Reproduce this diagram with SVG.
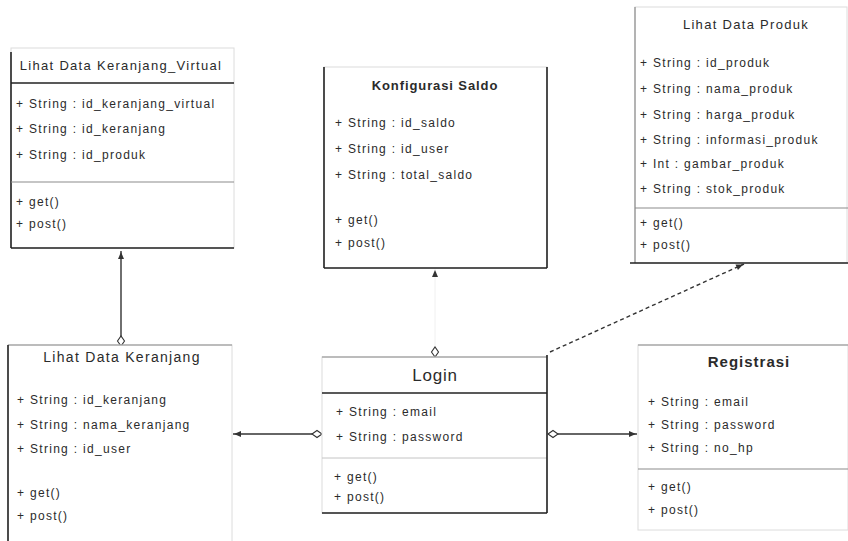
<svg xmlns="http://www.w3.org/2000/svg" width="848" height="541" viewBox="0 0 848 541">
<defs>
<style>
text { font-family: "Liberation Sans", Arial, sans-serif; fill: #2b2b2b; }
.a { font-size: 12px; letter-spacing: 1.3px; }
.ti { font-size: 13px; letter-spacing: 1.3px; text-anchor: middle; }
.tb { font-size: 13px; font-weight: bold; letter-spacing: 0.9px; text-anchor: middle; }
.box { fill: #ffffff; stroke: #dcdcdc; stroke-width: 1; }
.dk { stroke: #222222; stroke-width: 1.6; fill: none; }
.md { stroke: #8c8c8c; stroke-width: 1.2; fill: none; }
.lt { stroke: #c4c4c4; stroke-width: 1; fill: none; }
.conn { stroke: #333333; stroke-width: 1.4; fill: none; }
</style>
<marker id="arrow" markerUnits="userSpaceOnUse" markerWidth="10" markerHeight="10" viewBox="-1 -5 10 10" refX="8" refY="0" orient="auto">
<path d="M0,-3 L7,0 L0,3 Z" fill="#333333"/>
</marker>
<marker id="diamond" markerUnits="userSpaceOnUse" markerWidth="14" markerHeight="10" viewBox="-1 -5 14 10" refX="0" refY="0" orient="auto">
<path d="M0,0 L5,-3.5 L10,0 L5,3.5 Z" fill="#ffffff" stroke="#333333" stroke-width="1.1"/>
</marker>
<clipPath id="clip1"><rect x="11" y="48" width="222" height="200"/></clipPath>
</defs>

<g id="connectors">
<path class="conn" d="M121,346 L121,251" marker-start="url(#diamond)" marker-end="url(#arrow)"/>
<path d="M435,357 L435,269" stroke="#f0f0f0" stroke-width="1" fill="none" marker-start="url(#diamond)" marker-end="url(#arrow)"/>
<path class="conn" d="M322,434 L233,434" stroke-width="1.2" marker-start="url(#diamond)" marker-end="url(#arrow)"/>
<path class="conn" d="M548,434 L637,434" stroke-width="1.2" marker-start="url(#diamond)" marker-end="url(#arrow)"/>
<path class="conn" d="M550,352 L744,264" stroke-width="1.2" stroke-dasharray="4,3" marker-end="url(#arrow)"/>
</g>

<g id="keranjang-virtual">
<rect class="box" x="11" y="48" width="223" height="200"/>
<line class="dk" x1="11" y1="52" x2="11" y2="248"/>
<line class="dk" x1="11" y1="83" x2="234" y2="83"/>
<line class="md" x1="11" y1="182" x2="234" y2="182"/>
<line class="dk" x1="11" y1="248" x2="234" y2="248"/>
<text class="ti" x="121" y="70">Lihat Data Keranjang_Virtual</text>
<g clip-path="url(#clip1)">
<text class="a" x="16" y="108">+ String : id_keranjang_virtual</text>
</g>
<text class="a" x="16" y="133">+ String : id_keranjang</text>
<text class="a" x="16" y="159">+ String : id_produk</text>
<text class="a" x="16" y="206">+ get()</text>
<text class="a" x="16" y="228">+ post()</text>
</g>

<g id="konfigurasi-saldo">
<rect class="box" x="324" y="67" width="223" height="201"/>
<line class="dk" x1="324" y1="67" x2="324" y2="268"/>
<line class="dk" x1="547" y1="67" x2="547" y2="268"/>
<line class="dk" x1="324" y1="268" x2="547" y2="268"/>
<text class="tb" x="435" y="90">Konfigurasi Saldo</text>
<text class="a" x="335" y="127">+ String : id_saldo</text>
<text class="a" x="335" y="153">+ String : id_user</text>
<text class="a" x="335" y="179">+ String : total_saldo</text>
<text class="a" x="335" y="224">+ get()</text>
<text class="a" x="335" y="247">+ post()</text>
</g>

<g id="lihat-data-produk">
<rect class="box" x="635" y="7" width="212" height="256"/>
<line class="md" x1="635" y1="7" x2="635" y2="263"/>
<line class="md" x1="635" y1="208" x2="848" y2="208"/>
<line class="dk" x1="630" y1="263" x2="848" y2="263"/>
<text class="ti" x="746" y="29">Lihat Data Produk</text>
<text class="a" x="640" y="67">+ String : id_produk</text>
<text class="a" x="640" y="93">+ String : nama_produk</text>
<text class="a" x="640" y="119">+ String : harga_produk</text>
<text class="a" x="640" y="144">+ String : informasi_produk</text>
<text class="a" x="640" y="168">+ Int : gambar_produk</text>
<text class="a" x="640" y="193">+ String : stok_produk</text>
<text class="a" x="640" y="227">+ get()</text>
<text class="a" x="640" y="249">+ post()</text>
</g>

<g id="lihat-data-keranjang">
<rect class="box" x="8" y="345" width="224" height="200"/>
<line class="md" x1="8" y1="345" x2="232" y2="345"/>
<line class="dk" x1="8" y1="345" x2="8" y2="541"/>
<text class="ti" x="122" y="362" style="font-size:14px">Lihat Data Keranjang</text>
<text class="a" x="17" y="404">+ String : id_keranjang</text>
<text class="a" x="17" y="429">+ String : nama_keranjang</text>
<text class="a" x="17" y="453">+ String : id_user</text>
<text class="a" x="17" y="497">+ get()</text>
<text class="a" x="17" y="520">+ post()</text>
</g>

<g id="login">
<rect class="box" x="322" y="357" width="225" height="156"/>
<line class="md" x1="322" y1="357" x2="547" y2="357"/>
<line class="dk" x1="322" y1="393" x2="547" y2="393"/>
<line class="lt" x1="322" y1="458" x2="547" y2="458"/>
<line class="dk" x1="322" y1="513" x2="547" y2="513"/>
<line class="dk" x1="547" y1="355" x2="547" y2="513"/>
<text x="435" y="381" style="font-size:17px;letter-spacing:0.8px;text-anchor:middle">Login</text>
<text class="a" x="336" y="416">+ String : email</text>
<text class="a" x="336" y="441">+ String : password</text>
<text class="a" x="334" y="481">+ get()</text>
<text class="a" x="334" y="501">+ post()</text>
</g>

<g id="registrasi">
<rect class="box" x="638" y="345" width="210" height="185" stroke="#efefef"/>
<line class="md" x1="638" y1="345" x2="848" y2="345"/>
<line class="md" x1="638" y1="469" x2="848" y2="469"/>
<text x="749" y="367" style="font-size:15px;font-weight:bold;letter-spacing:1px;text-anchor:middle">Registrasi</text>
<text class="a" x="648" y="406">+ String : email</text>
<text class="a" x="648" y="429">+ String : password</text>
<text class="a" x="648" y="452">+ String : no_hp</text>
<text class="a" x="648" y="491">+ get()</text>
<text class="a" x="648" y="514">+ post()</text>
</g>
</svg>
